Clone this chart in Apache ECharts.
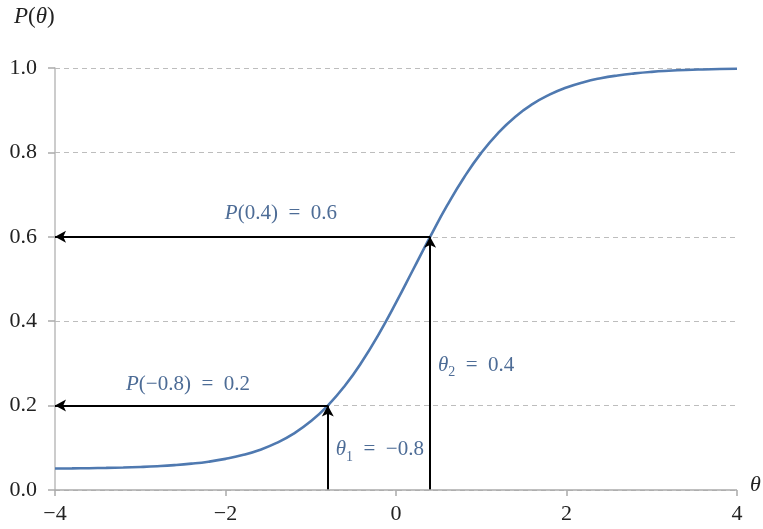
<!DOCTYPE html>
<html>
<head>
<meta charset="utf-8">
<script src="https://cdn.jsdelivr.net/npm/echarts@6/dist/echarts.min.js"></script>
<style>html,body{margin:0;padding:0;background:#fff}#c{width:763px;height:529px}</style>
</head>
<body>
<div id="c"></div>
<script>
// Curve readings (theta, P(theta))
const theta = [-4,-3.8,-3.6,-3.4,-3.2,-3,-2.8,-2.6,-2.4,-2.2,-2,-1.8,-1.6,-1.4,-1.2,-1,-0.8,-0.6,-0.4,-0.2,0,0.2,0.4,0.6,0.8,1,1.2,1.4,1.6,1.8,2,2.2,2.4,2.6,2.8,3,3.2,3.4,3.6,3.8,4];
const prob  = [0.0509,0.0512,0.0517,0.0524,0.0533,0.0546,0.0564,0.0589,0.0624,0.0671,0.0737,0.0827,0.0950,0.1116,0.1337,0.1627,0.2001,0.2470,0.3038,0.3701,0.4439,0.5219,0.6000,0.6743,0.7412,0.7989,0.8465,0.8847,0.9143,0.9368,0.9538,0.9665,0.9757,0.9824,0.9873,0.9909,0.9934,0.9953,0.9966,0.9976,0.9982];
const xTicks = [-4,-2,0,2,4];
const yTicks = [0,0.2,0.4,0.6,0.8,1.0];
// Highlighted points
const thetaMarks = [-0.8, 0.4];
const probMarks = [0.2, 0.6];

const serif = '"Liberation Serif","DejaVu Serif",serif';
const annoColor = '#4d6c96';
const chart = echarts.init(document.getElementById('c'));
const rich = {
  i: {fontFamily: serif, fontStyle: 'italic', fontSize: 21, color: annoColor},
  n: {fontFamily: serif, fontSize: 21, color: annoColor},
  s: {fontFamily: serif, fontSize: 14, color: annoColor, verticalAlign: 'bottom', padding: [14,0,0,0]}
};
const arrowLines = [];
for (let k = 0; k < thetaMarks.length; k++) {
  arrowLines.push([{coord: [thetaMarks[k], 0]}, {coord: [thetaMarks[k], probMarks[k]]}]);
  arrowLines.push([{coord: [thetaMarks[k], probMarks[k]]}, {coord: [-4, probMarks[k]]}]);
}
const fmt = v => String(v).replace('-', '\u2212');
chart.setOption({
  animation: false,
  grid: {left: 55, right: 26, top: 68, bottom: 39},
  xAxis: {
    type: 'value', min: -4, max: 4, interval: 2,
    axisLine: {show: false, onZero: false},
    axisTick: {show: true, length: 6, lineStyle: {color: '#aaa', width: 1.5}},
    splitLine: {show: false},
    axisLabel: {fontFamily: serif, fontSize: 22, color: '#222', margin: 13, formatter: v => fmt(v)}
  },
  yAxis: {
    type: 'value', min: 0, max: 1, interval: 0.2,
    axisLine: {show: true, onZero: false, lineStyle: {color: '#bbb', width: 1.5}},
    axisTick: {show: true, length: 7, lineStyle: {color: '#aaa', width: 1.5}},
    splitLine: {show: true, lineStyle: {color: '#bdbdbd', type: [5,4], width: 1.2}},
    axisLabel: {fontFamily: serif, fontSize: 22, color: '#222', margin: 18, formatter: v => v.toFixed(1)}
  },
  graphic: [
    {type: 'text', left: 14, top: 5, style: {text: '{i|P}{n|(}{i|θ}{n|)}', rich: {
      i: {fontFamily: serif, fontStyle: 'italic', fontSize: 23, fill: '#222'},
      n: {fontFamily: serif, fontSize: 23, fill: '#222'}}}},
    {type: 'text', left: 750, top: 474, style: {text: 'θ', font: 'italic 22px ' + serif, fill: '#222'}}
  ],
  series: [
    {
      type: 'line', data: theta.map((t, i) => [t, prob[i]]), smooth: 0.5, showSymbol: false,
      lineStyle: {color: '#4f79b0', width: 2.6}, z: 3
    },
    {
      type: 'line', data: [], z: 4,
      markLine: {
        silent: true, symbol: ['none', 'arrow'], symbolSize: [9, 11],
        lineStyle: {color: '#000', width: 2, type: 'solid'},
        label: {show: false}, data: arrowLines
      }
    },
    {
      type: 'line', data: [], z: 5,
      markLine: {
        silent: true, symbol: ['none','none'], lineStyle: {color: '#aaa', width: 1.5, type: 'solid'},
        label: {show: false}, data: [[{coord: [-4, 0]}, {coord: [4, 0]}]]
      },
      markPoint: {
        symbol: 'circle', symbolSize: 0, silent: true,
        label: {show: true, position: 'inside'},
        data: [
          {coord: [-1.35, 0.656], label: {formatter: '{i|P}{n|(0.4)  =  0.6}', rich}},
          {coord: [-2.44, 0.249], label: {formatter: '{i|P}{n|(\u22120.8)  =  0.2}', rich}},
          {coord: [-0.19, 0.095], label: {formatter: '{i|θ}{s|1}{n|  =  \u22120.8}', rich}},
          {coord: [0.94, 0.296], label: {formatter: '{i|θ}{s|2}{n|  =  0.4}', rich}}
        ]
      }
    }
  ]
});
</script>
</body>
</html>
